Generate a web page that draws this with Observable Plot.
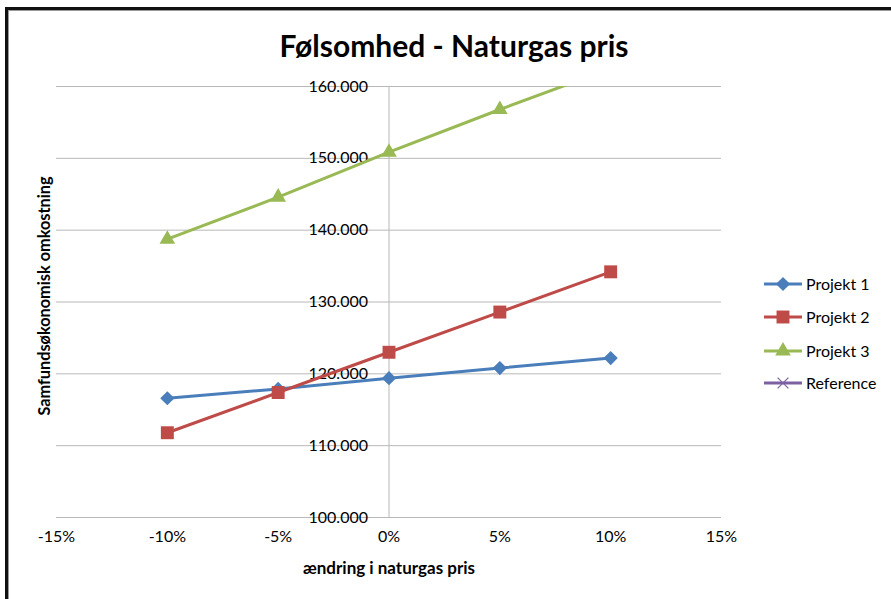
<!DOCTYPE html>
<html>
<head>
<meta charset="utf-8">
<script src="https://cdn.jsdelivr.net/npm/d3@7"></script>
<script src="https://cdn.jsdelivr.net/npm/@observablehq/plot@0.6"></script>
<style>
  html, body { margin: 0; padding: 0; background: #fff; }
  #wrap { position: relative; width: 891px; height: 599px; overflow: hidden; font-family: Lato, "Open Sans", sans-serif; color: #000; }
  #frame { position: absolute; left: 5px; top: 7px; width: 1000px; height: 1000px; border-left: 3px solid #111; border-top: 3px solid #111; box-shadow: inset 1px 1px 0 #9a9a9a; pointer-events: none; }
  #title { position: absolute; left: 0; width: 908px; top: 25px; text-align: center; font-weight: bold; font-size: 30px; line-height: 40px; }
  #xtitle { position: absolute; left: 0; width: 778px; top: 557px; text-align: center; font-weight: bold; font-size: 17px; line-height: 22px; }
  #ytitle { position: absolute; left: 44px; top: 296px; transform: translate(-50%, -50%) rotate(-90deg); white-space: nowrap; font-weight: bold; font-size: 16.3px; line-height: 20px; }
  #chart { position: absolute; left: 0; top: 0; }
  #legend { position: absolute; left: 762px; top: 0; }
  .li { position: absolute; left: 0; height: 24px; width: 130px; }
  .li svg { position: absolute; left: 0; top: 0; }
  .li span { position: absolute; left: 44px; top: 0; font-size: 16px; line-height: 24px; white-space: nowrap; }
</style>
</head>
<body>
<div id="wrap">
  <div id="chart"></div>
  <div id="title">Følsomhed - Naturgas pris</div>
  <div id="xtitle">ændring i naturgas pris</div>
  <div id="ytitle">Samfundsøkonomisk omkostning</div>
  <div id="legend"></div>
  <div id="frame"></div>
</div>
<script>
// ---- data ----
const changes = [-0.10, -0.05, 0, 0.05, 0.10];
const projekt1 = [116600, 117900, 119400, 120800, 122200];
const projekt2 = [111800, 117400, 123000, 128600, 134200];
const projekt3 = [138750, 144600, 150850, 156800, 162500];
const reference = []; // no visible points in the chart

const seriesNames = ["Projekt 1", "Projekt 2", "Projekt 3", "Reference"];
const seriesColors = ["#4a7ebb", "#be4b48", "#98b954", "#7d60a0"];
const seriesSymbols = ["diamond2", "square", "triangle", "times"];

const xTicks = [-0.15, -0.10, -0.05, 0, 0.05, 0.10, 0.15];
const xTickLabels = ["-15%", "-10%", "-5%", "0%", "5%", "10%", "15%"];
const yTicks = [100000, 110000, 120000, 130000, 140000, 150000, 160000];
const yTickLabels = ["100.000", "110.000", "120.000", "130.000", "140.000", "150.000", "160.000"];

// ---- build table ----
const seriesValues = [projekt1, projekt2, projekt3, reference];
const rows = [];
seriesValues.forEach((vals, i) => {
  vals.forEach((v, j) => rows.push({series: seriesNames[i], x: changes[j], y: v}));
});

const colorScale = {domain: seriesNames, range: seriesColors};
const symbolScale = {domain: seriesNames, range: seriesSymbols};

const markerR = {"Projekt 1": 6.4, "Projekt 2": 7.3, "Projekt 3": 5.8, "Reference": 5};

const chart = Plot.plot({
  width: 891,
  height: 599,
  marginLeft: 56,
  marginRight: 170,
  marginTop: 86,
  marginBottom: 82,
  style: {fontFamily: "Lato, 'Open Sans', sans-serif", fontSize: "16px", color: "#000", background: "transparent"},
  x: {domain: [-0.15, 0.15], axis: null},
  y: {domain: [100000, 160000], axis: null},
  color: colorScale,
  symbol: symbolScale,
  marks: [
    Plot.ruleY(yTicks, {y: d => d, stroke: "#b8b8b8", strokeWidth: 1}),
    Plot.ruleX([0], {x: d => d, stroke: "#b8b8b8", strokeWidth: 1}),
    Plot.text(yTicks, {x: 0, y: d => d, text: (d, i) => yTickLabels[i], textAnchor: "end", dx: -21, fill: "#000"}),
    Plot.text(xTicks, {x: d => d, frameAnchor: "bottom", dy: 24, text: (d, i) => xTickLabels[i], fill: "#000"}),
    Plot.line(rows, {x: "x", y: "y", z: "series", stroke: "series", strokeWidth: 3, clip: true}),
    ...seriesNames.map(name => Plot.dot(rows.filter(r => r.series === name), {
      x: "x", y: "y", symbol: "series", fill: "series", stroke: "none", r: markerR[name], clip: true
    }))
  ]
});
document.getElementById("chart").appendChild(chart);

// ---- legend ----
const legend = document.getElementById("legend");
const legendY = [272, 305, 339, 371];
seriesNames.forEach((name, i) => {
  const item = document.createElement("div");
  item.className = "li";
  item.style.top = legendY[i] + "px";
  const ns = "http://www.w3.org/2000/svg";
  const svg = document.createElementNS(ns, "svg");
  svg.setAttribute("width", 42); svg.setAttribute("height", 24);
  const line = document.createElementNS(ns, "line");
  line.setAttribute("x1", 2); line.setAttribute("x2", 40);
  line.setAttribute("y1", 12); line.setAttribute("y2", 12);
  line.setAttribute("stroke", seriesColors[i]); line.setAttribute("stroke-width", 3);
  svg.appendChild(line);
  const sym = {diamond2: d3.symbolDiamond2, square: d3.symbolSquare, triangle: d3.symbolTriangle, times: d3.symbolTimes}[seriesSymbols[i]];
  const r = markerR[name];
  const path = document.createElementNS(ns, "path");
  path.setAttribute("d", d3.symbol(sym, Math.PI * r * r)());
  path.setAttribute("transform", "translate(21,12)");
  if (seriesSymbols[i] === "times") {
    path.setAttribute("fill", "none");
    path.setAttribute("stroke", seriesColors[i]);
    path.setAttribute("stroke-width", 1.2);
  } else {
    path.setAttribute("fill", seriesColors[i]);
  }
  svg.appendChild(path);
  item.appendChild(svg);
  const span = document.createElement("span");
  span.textContent = name;
  item.appendChild(span);
  legend.appendChild(item);
});
</script>
</body>
</html>
